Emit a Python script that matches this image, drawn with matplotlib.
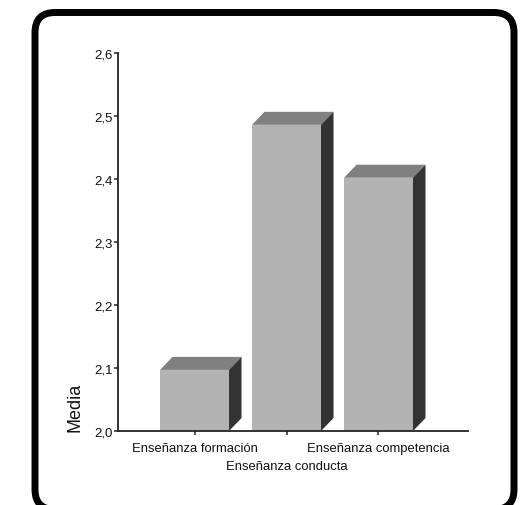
import matplotlib
matplotlib.use("Agg")
import matplotlib.pyplot as plt
from matplotlib.patches import Polygon, FancyBboxPatch
from matplotlib.transforms import ScaledTranslation

categories = ["Enseñanza formación", "Enseñanza conducta", "Enseñanza competencia"]
values = [2.097, 2.486, 2.402]
yticks = [2.0, 2.1, 2.2, 2.3, 2.4, 2.5, 2.6]
ytick_labels = ["2,0", "2,1", "2,2", "2,3", "2,4", "2,5", "2,6"]
ylabel = "Media"

plt.rcParams['font.family'] = ['Liberation Sans', 'DejaVu Sans']

W, H = 527, 506
fig = plt.figure(figsize=(W / 100, H / 100), dpi=100)
ax = fig.add_axes([118 / W, 1 - 432 / H, (468 - 118) / W, (432 - 54) / H])

xmin, xmax = -0.832, 2.973
ymin, ymax = 2.0, 2.6
ax.set_xlim(xmin, xmax)
ax.set_ylim(ymin, ymax)

bar_w = 0.75
front_c, top_c, side_c = "#b3b3b3", "#808080", "#333333"

# depth in pixels -> data units
ax_w_px = 468 - 118
ax_h_px = 432 - 54
dx = 12.5 * (xmax - xmin) / ax_w_px
dy = 13.0 * (ymax - ymin) / ax_h_px

x = list(range(len(categories)))
ax.bar(x, [v - ymin for v in values], bottom=ymin, width=bar_w, color=front_c,
       edgecolor="none", zorder=3)
for xi, v in zip(x, values):
    x0, x1 = xi - bar_w / 2, xi + bar_w / 2
    top = Polygon([(x0, v), (x1, v), (x1 + dx, v + dy), (x0 + dx, v + dy)],
                  closed=True, facecolor=top_c, edgecolor="none", zorder=3)
    side = Polygon([(x1, ymin), (x1, v), (x1 + dx, v + dy), (x1 + dx, ymin + dy)],
                   closed=True, facecolor=side_c, edgecolor="none", zorder=3)
    ax.add_patch(top)
    ax.add_patch(side)

for s in ["top", "right"]:
    ax.spines[s].set_visible(False)
for s in ["left", "bottom"]:
    ax.spines[s].set_color("#222222")
    ax.spines[s].set_linewidth(1.3)
    ax.spines[s].set_zorder(4)

ax.set_yticks(yticks)
ax.set_yticklabels(ytick_labels)
ax.set_xticks(x)
ax.set_xticklabels(categories)
ax.tick_params(axis="y", direction="out", length=3, width=1.1, color="#222222",
               labelsize=9.5, labelcolor="#111111", pad=1)
ax.tick_params(axis="x", direction="out", length=3, width=1.1, color="#222222",
               labelsize=9.4, labelcolor="#111111", pad=5)

xt = ax.get_xticklabels()
xt[1].set_transform(xt[1].get_transform() + ScaledTranslation(0, -18 / 100, fig.dpi_scale_trans))

ax.text(-43 / ax_w_px, 0.0, ylabel, transform=ax.transAxes, rotation=90,
        ha="center", va="bottom", fontsize=13, color="#111111")

border = FancyBboxPatch((0.35, -0.045), 5.14 - 0.35, 4.925 + 0.045,
                        boxstyle="round,pad=0,rounding_size=0.2",
                        transform=fig.dpi_scale_trans, facecolor="none",
                        edgecolor="black", linewidth=5.0, clip_on=False)
fig.patches.append(border)

fig.savefig("out.png", dpi=100)
